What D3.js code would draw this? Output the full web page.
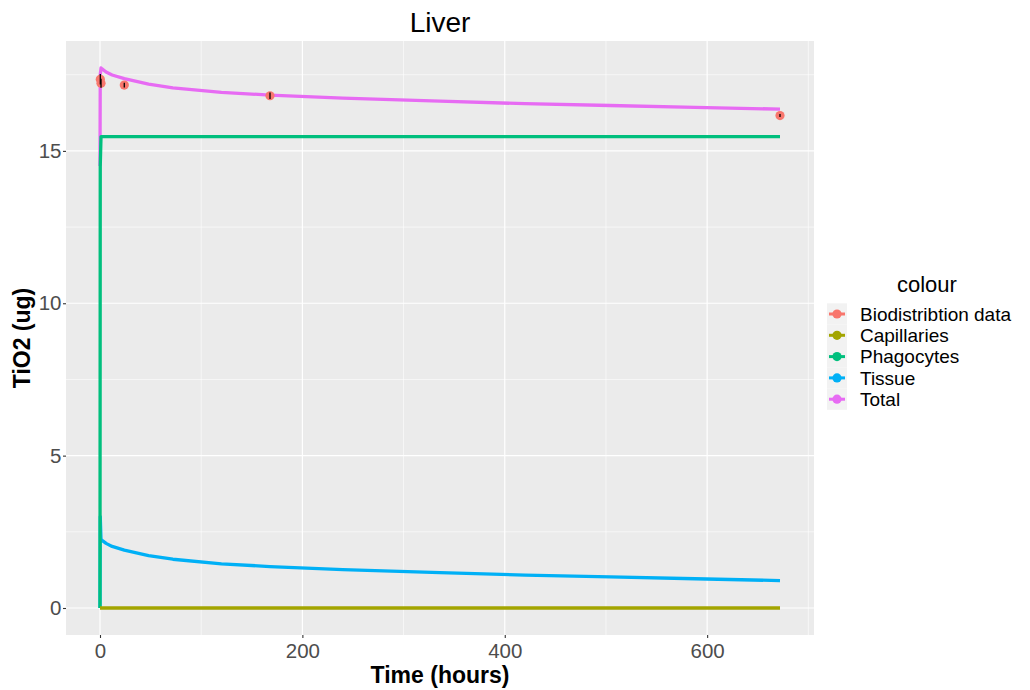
<!DOCTYPE html>
<html>
<head>
<meta charset="utf-8">
<script src="https://cdn.jsdelivr.net/npm/d3@7"></script>
<style>
  html, body { margin: 0; padding: 0; background: #ffffff; }
  svg { display: block; font-family: "Liberation Sans", Arial, sans-serif; }
</style>
</head>
<body>
<svg id="chart" width="1030" height="690"></svg>
<script>
// Simulated TiO2 mass in liver compartments (ug) over time (hours)
const hours       = [0, 0.25, 1, 2, 6, 12, 24, 48, 72, 120, 168, 240, 336, 420, 504, 588, 672];
const capillaries = [0, 0, 0, 0, 0, 0, 0, 0, 0, 0, 0, 0, 0, 0, 0, 0, 0];
const phagocytes  = [0, 14.5, 15.47, 15.47, 15.47, 15.47, 15.47, 15.47, 15.47, 15.47, 15.47, 15.47, 15.47, 15.47, 15.47, 15.47, 15.47];
const tissue      = [0, 3.0, 2.25, 2.22, 2.12, 2.02, 1.9, 1.72, 1.6, 1.45, 1.36, 1.26, 1.16, 1.08, 1.02, 0.96, 0.9];
const total       = [14.5, 17.5, 17.72, 17.69, 17.59, 17.49, 17.37, 17.19, 17.07, 16.92, 16.83, 16.73, 16.63, 16.55, 16.49, 16.43, 16.37];

// Measured biodistribution (mean ± sd)
const obsHours = [0.3, 1, 24, 168, 672];
const obsMean  = [17.35, 17.22, 17.16, 16.81, 16.16];
const obsSd    = [0.17, 0.15, 0.08, 0.11, 0.05];

const xTicks = [0, 200, 400, 600];
const xMinor = [100, 300, 500, 700];
const yTicks = [0, 5, 10, 15];
const yMinor = [2.5, 7.5, 12.5, 17.5];

const legendLabels = ["Biodistribtion data", "Capillaries", "Phagocytes", "Tissue", "Total"];
const legendColors = ["#F8766D", "#A3A500", "#00BF7D", "#00B0F6", "#E76BF3"];

const svg = d3.select("#chart");
const panel = { left: 66, right: 814, top: 41, bottom: 635 };

const xMax = d3.max(hours), yMax = d3.max(total);
const x = d3.scaleLinear().domain([-0.05 * xMax, xMax * 1.05]).range([panel.left, panel.right]);
const y = d3.scaleLinear().domain([-0.05 * yMax, yMax * 1.05]).range([panel.bottom, panel.top]);

// panel background
svg.append("rect")
  .attr("x", panel.left).attr("y", panel.top)
  .attr("width", panel.right - panel.left).attr("height", panel.bottom - panel.top)
  .attr("fill", "#EBEBEB");

const grid = svg.append("g");
grid.selectAll(".xm").data(xMinor).join("line")
  .attr("x1", d => x(d)).attr("x2", d => x(d)).attr("y1", panel.top).attr("y2", panel.bottom)
  .attr("stroke", "#fff").attr("stroke-width", 0.6);
grid.selectAll(".ym").data(yMinor).join("line")
  .attr("y1", d => y(d)).attr("y2", d => y(d)).attr("x1", panel.left).attr("x2", panel.right)
  .attr("stroke", "#fff").attr("stroke-width", 0.6);
grid.selectAll(".xM").data(xTicks).join("line")
  .attr("x1", d => x(d)).attr("x2", d => x(d)).attr("y1", panel.top).attr("y2", panel.bottom)
  .attr("stroke", "#fff").attr("stroke-width", 1.2);
grid.selectAll(".yM").data(yTicks).join("line")
  .attr("y1", d => y(d)).attr("y2", d => y(d)).attr("x1", panel.left).attr("x2", panel.right)
  .attr("stroke", "#fff").attr("stroke-width", 1.2);

// model curves
const series = [
  { values: total, color: legendColors[4] },
  { values: tissue, color: legendColors[3] },
  { values: phagocytes, color: legendColors[2] },
  { values: capillaries, color: legendColors[1] }
];
const line = d3.line().x(d => x(d[0])).y(d => y(d[1]));
series.forEach(s => {
  svg.append("path")
    .attr("d", line(hours.map((h, i) => [h, s.values[i]])))
    .attr("fill", "none").attr("stroke", s.color)
    .attr("stroke-width", 3.3).attr("stroke-linejoin", "round");
});

// observations with error bars
const obs = obsHours.map((h, i) => ({ h, m: obsMean[i], sd: obsSd[i] }));
svg.append("g").selectAll("circle").data(obs).join("circle")
  .attr("cx", d => x(d.h)).attr("cy", d => y(d.m)).attr("r", 4.6)
  .attr("fill", legendColors[0]);
svg.append("g").selectAll("line").data(obs).join("line")
  .attr("x1", d => x(d.h)).attr("x2", d => x(d.h))
  .attr("y1", d => y(d.m - d.sd)).attr("y2", d => y(d.m + d.sd))
  .attr("stroke", "#000").attr("stroke-width", 1.3);

// axes
const xAxis = svg.append("g").attr("transform", `translate(0,${panel.bottom})`)
  .call(d3.axisBottom(x).tickValues(xTicks).tickSize(3).tickPadding(4));
const yAxis = svg.append("g").attr("transform", `translate(${panel.left},0)`)
  .call(d3.axisLeft(y).tickValues(yTicks).tickSize(3).tickPadding(1.5));
[xAxis, yAxis].forEach(a => {
  a.select(".domain").remove();
  a.selectAll(".tick line").attr("stroke", "#333333").attr("stroke-width", 1.1);
  a.selectAll(".tick text").attr("fill", "#4D4D4D")
    .style("font-size", "20.5px").style("font-family", "'Liberation Sans', Arial, sans-serif");
});
xAxis.selectAll(".tick text").attr("dy", "0.8em");

// titles
svg.append("text").attr("x", (panel.left + panel.right) / 2).attr("y", 32)
  .attr("text-anchor", "middle").style("font-size", "28px").attr("fill", "#000").text("Liver");
svg.append("text").attr("x", (panel.left + panel.right) / 2).attr("y", 683)
  .attr("text-anchor", "middle").style("font-size", "23px").style("font-weight", "bold")
  .attr("fill", "#000").text("Time (hours)");
svg.append("text").attr("transform", `translate(30,${(panel.top + panel.bottom) / 2}) rotate(-90)`)
  .attr("text-anchor", "middle").style("font-size", "23px").style("font-weight", "bold")
  .attr("fill", "#000").text("TiO2 (ug)");

// legend
const lg = svg.append("g");
lg.append("text").attr("x", 897).attr("y", 292).style("font-size", "22px").attr("fill", "#000").text("colour");
const rowH = 21.3, row0 = 314;
legendLabels.forEach((lab, i) => {
  const cy = row0 + i * rowH;
  lg.append("rect").attr("x", 827).attr("y", cy - rowH / 2).attr("width", 20).attr("height", rowH)
    .attr("fill", "#F2F2F2");
  lg.append("line").attr("x1", 829).attr("x2", 845).attr("y1", cy).attr("y2", cy)
    .attr("stroke", legendColors[i]).attr("stroke-width", 3);
  lg.append("circle").attr("cx", 837).attr("cy", cy).attr("r", 4.6).attr("fill", legendColors[i]);
  lg.append("text").attr("x", 860).attr("y", cy + 6.8).style("font-size", "19px").attr("fill", "#000").text(lab);
});
</script>
</body>
</html>
